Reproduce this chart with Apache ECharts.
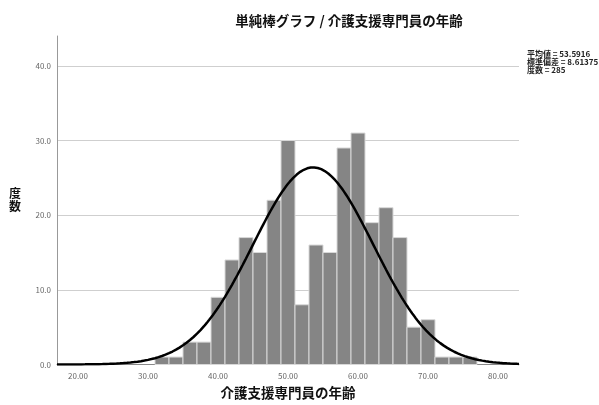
<!DOCTYPE html>
<html>
<head>
<meta charset="utf-8">
<script src="https://cdn.jsdelivr.net/npm/echarts@6/dist/echarts.min.js"></script>
<style>
  html, body { margin: 0; padding: 0; background: #ffffff; }
  #chart { width: 599px; height: 405px; }
</style>
</head>
<body>
<div id="chart"></div>
<script>
// Age histogram of care managers with a fitted normal curve
const binWidth = 2;
const binLefts = [31, 33, 35, 37, 39, 41, 43, 45, 47, 49, 51, 53, 55, 57, 59, 61, 63, 65, 67, 69, 71, 73, 75];
const counts   = [1, 1, 3, 3, 9, 14, 17, 15, 22, 30, 8, 16, 15, 29, 31, 19, 21, 17, 5, 6, 1, 1, 1];
const xTicks = [20, 30, 40, 50, 60, 70, 80];
const yTicks = [0, 10, 20, 30, 40];
const meanAge = 53.5916;
const sdAge = 8.61375;
const nCases = 285;
const statLines = ['平均値 = 53.5916', '標準偏差 = 8.61375', '度数 = 285'];

const FONT = '"Noto Sans CJK JP", "Noto Sans", sans-serif';

// normal density scaled to counts per bin
const curve = [];
for (let x = 17; x <= 83.0001; x += 0.25) {
  const z = (x - meanAge) / sdAge;
  const y = nCases * binWidth * Math.exp(-0.5 * z * z) / (sdAge * Math.sqrt(2 * Math.PI));
  curve.push([x, y]);
}

const bars = binLefts.map((l, i) => [l, l + binWidth, counts[i]]);

const chart = echarts.init(document.getElementById('chart'), null, { renderer: 'canvas' });
chart.setOption({
  animation: false,
  backgroundColor: '#ffffff',
  title: {
    text: '単純棒グラフ / 介護支援専門員の年齢',
    left: 344, top: 9, textAlign: 'center',
    textStyle: { fontFamily: FONT, fontSize: 13.5, fontWeight: 'bold', color: '#111' }
  },
  graphic: [{
    type: 'text', left: 527, top: 50,
    style: {
      text: statLines.join('\n'),
      font: 'bold 8px ' + FONT, fill: '#222', lineHeight: 8
    }
  }],
  grid: { left: 57, right: 80, top: 36, bottom: 38 },
  xAxis: {
    type: 'value', min: 17, max: 83,
    name: '介護支援専門員の年齢', nameLocation: 'middle', nameGap: 22,
    nameTextStyle: { fontFamily: FONT, fontSize: 13.5, fontWeight: 'bold', color: '#111' },
    axisLine: { show: true, lineStyle: { color: '#888', width: 1 } },
    axisTick: { show: false, customValues: xTicks },
    axisLabel: {
      customValues: xTicks, color: '#666', fontSize: 8, fontFamily: FONT, margin: 7,
      formatter: v => v.toFixed(2)
    },
    splitLine: { show: false }
  },
  yAxis: {
    type: 'value', min: 0, max: 44,
    name: '度\n数', nameLocation: 'middle', nameGap: 36, nameRotate: 0,
    nameTextStyle: { fontFamily: FONT, fontSize: 12, fontWeight: 'bold', color: '#111', lineHeight: 13 },
    axisLine: { show: true, lineStyle: { color: '#999', width: 1 } },
    axisTick: { show: false, customValues: yTicks },
    axisLabel: {
      customValues: yTicks, color: '#666', fontSize: 8, fontFamily: FONT, margin: 6,
      formatter: v => v.toFixed(1)
    },
    splitLine: { show: true, lineStyle: { color: '#cfcfcf', width: 1 } }
  },
  series: [{
    type: 'custom',
    data: bars,
    encode: { x: [0, 1], y: 2 },
    renderItem: function (params, api) {
      const p0 = api.coord([api.value(0), 0]);
      const p1 = api.coord([api.value(1), api.value(2)]);
      return {
        type: 'rect',
        shape: { x: p0[0], y: p1[1], width: p1[0] - p0[0], height: p0[1] - p1[1] },
        style: { fill: '#858585', stroke: '#d8d8d8', lineWidth: 1 }
      };
    },
    z: 2
  }, {
    type: 'line',
    data: curve,
    showSymbol: false,
    smooth: false,
    lineStyle: { color: '#000', width: 2.5 },
    z: 3
  }]
});
</script>
</body>
</html>
